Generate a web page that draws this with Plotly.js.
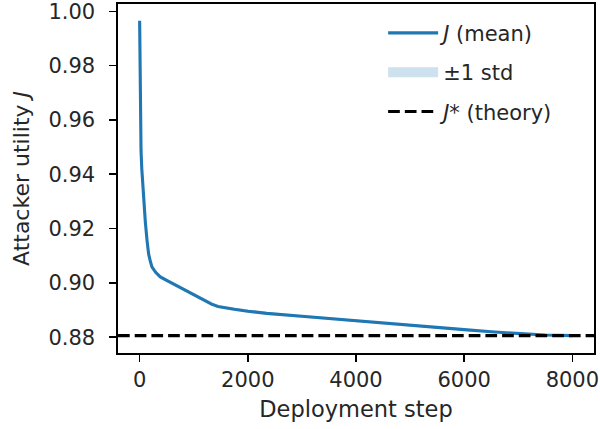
<!DOCTYPE html>
<html>
<head>
<meta charset="utf-8">
<script src="https://cdn.plot.ly/plotly-3.0.1.min.js"></script>
<style>html,body{margin:0;padding:0;background:#fff;}#chart{width:600px;height:429px;}</style>
</head>
<body>
<div id="chart"></div>
<script>
// Deployment steps (x)
const steps = [0, 5, 10, 15, 20, 26, 40, 55, 75, 92, 105, 137, 166, 200, 229, 300, 382, 500, 751, 1000, 1200, 1330, 1450, 1580, 1750, 2000, 2351, 3000, 3581, 4000, 4689, 5000, 5500, 6000, 6500, 7000, 7500, 8000];
// Mean attacker utility J
const meanJ = [0.9965, 0.985, 0.975, 0.966, 0.958, 0.9486, 0.942, 0.9364, 0.930, 0.9245, 0.9225, 0.9156, 0.9107, 0.9078, 0.9058, 0.9038, 0.9022, 0.9009, 0.8983, 0.8957, 0.8936, 0.8922, 0.8913, 0.8908, 0.8903, 0.8896, 0.8888, 0.8877, 0.8867, 0.8860, 0.8849, 0.8844, 0.8836, 0.8828, 0.8820, 0.8813, 0.8808, 0.8806];
// Standard deviation of J
const stdJ = [0.0002, 0.0002, 0.0002, 0.0002, 0.0003, 0.0003, 0.0003, 0.0004, 0.0004, 0.0004, 0.0004, 0.0005, 0.0005, 0.0005, 0.0006, 0.0006, 0.0006, 0.0006, 0.0006, 0.0006, 0.0006, 0.0006, 0.0005, 0.0005, 0.0005, 0.0005, 0.0005, 0.0005, 0.0005, 0.0004, 0.0004, 0.0004, 0.0004, 0.0003, 0.0003, 0.0003, 0.0002, 0.0002];
// Theoretical J*
const jStar = 0.8806;
// Axis settings
const xRange = [-400, 8400];
const yRange = [0.8742, 1.0027];
const xTicks = [0, 2000, 4000, 6000, 8000];
const yTicks = [0.88, 0.90, 0.92, 0.94, 0.96, 0.98, 1.00];

const upper = meanJ.map((m, i) => m + stdJ[i]);
const lower = meanJ.map((m, i) => m - stdJ[i]);

const blue = '#1f77b4';
const band = 'rgba(31,119,180,0.22)';
const FONT = 'DejaVu Sans, Liberation Sans, sans-serif';
const TXT = '#262626';

const traces = [
  {x: steps, y: lower, mode: 'lines', line: {width: 0, color: 'rgba(0,0,0,0)'}, showlegend: false, hoverinfo: 'skip', legendgroup: 'z'},
  {x: steps, y: upper, mode: 'lines', fill: 'tonexty', fillcolor: band, line: {width: 0, color: 'rgba(0,0,0,0)'}, showlegend: false, hoverinfo: 'skip', legendgroup: 'z'},
  {x: steps, y: meanJ, mode: 'lines', line: {color: blue, width: 3.1}, name: '<i>J</i> (mean)', legendgroup: 'a', legendrank: 1},
  {x: [null], y: [null], mode: 'lines', line: {color: band, width: 15}, name: '±1 std', legendgroup: 'b', legendrank: 2},
  {x: xRange, y: [jStar, jStar], mode: 'lines', line: {color: '#000', width: 3.1, dash: '11.7px,5px'}, name: '<i>J</i>* (theory)', legendgroup: 'c', legendrank: 3}
];

const axisCommon = {
  showgrid: false, zeroline: false, showline: true, linecolor: '#000', linewidth: 1.6, mirror: true,
  ticks: 'outside', ticklen: 7, tickwidth: 1.6, tickcolor: '#000', ticklabeloverflow: 'allow',
  tickfont: {family: FONT, size: 21, color: TXT}
};

const layout = {
  width: 600, height: 429,
  margin: {l: 118, r: 6, t: 4, b: 76},
  paper_bgcolor: '#fff', plot_bgcolor: '#fff',
  font: {family: FONT, size: 21, color: TXT},
  showlegend: true,
  legend: {x: 0.557, y: 0.975, xanchor: 'left', yanchor: 'top', bgcolor: 'rgba(255,255,255,0)', borderwidth: 0,
           font: {family: FONT, size: 21, color: TXT}, tracegroupgap: 9, itemwidth: 50, traceorder: 'grouped'},
  xaxis: Object.assign({}, axisCommon, {range: xRange, tickvals: xTicks, ticktext: xTicks.map(String),
          title: {text: 'Deployment step', font: {family: FONT, size: 22.5, color: TXT}, standoff: 10}}),
  yaxis: Object.assign({}, axisCommon, {range: yRange, tickvals: yTicks, ticktext: yTicks.map(v => v.toFixed(2)),
          ticklabelstandoff: 10,
          title: {text: 'Attacker utility <i>J</i>', font: {family: FONT, size: 22, color: TXT}, standoff: 13}})
};

Plotly.newPlot('chart', traces, layout, {displayModeBar: false, staticPlot: true});
</script>
</body>
</html>
